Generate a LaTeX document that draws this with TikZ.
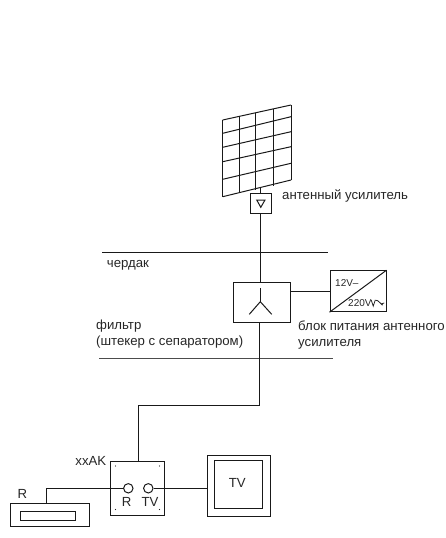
\documentclass[tikz,border=0pt]{standalone}
\usepackage{fontspec}
\setmainfont{Liberation Sans}
\tikzset{
  wire/.style={draw=black!90,line width=1pt},
  thin wire/.style={draw=black!90,line width=1pt},
  lbl/.style={inner sep=0pt,anchor=west,font=\fontsize{13.2}{13.2}\selectfont,text=black!85},
  two lines/.style={lbl,align=left,anchor=west,font=\fontsize{13.2}{16.4}\selectfont},
  small lbl/.style={inner sep=0pt,font=\fontsize{10}{10}\selectfont,text=black!85},
  unit/.style={draw=black!90,line width=1pt,inner sep=0pt,minimum width=0pt}
}
\begin{document}
\begin{tikzpicture}[x=1pt,y=-1pt]
\useasboundingbox (0,0) rectangle (446,538);
% antenna grid
\foreach \x/\yt/\yb in {222.7/120/196.7,239.3/116.5/193,255.7/113/189.5,273/109/185.5,291/105/180}
  \draw[thin wire] (\x,\yt) -- (\x,\yb);
\foreach \yl/\yr in {120/105,133.3/116.7,147.3/131.7,161.7/146.7,179.3/163.3,196.7/180}
  \draw[thin wire] (222.7,\yl) -- (291,\yr);
% amplifier
\node[unit,minimum width=20.3pt,minimum height=20pt] (amp) at (260.85,203.3) {};
\coordinate (antfoot) at (260.85,188);
\draw[thin wire] (256.7,200) -- (265,200) -- (260.8,207.3) -- cycle;
\draw[wire] (antfoot) -- (amp.north);
\node[lbl] (amplabel) at (282,195.7) {антенный усилитель};
% splitter
\node[unit,minimum width=56.7pt,minimum height=40.7pt] (split) at (262.3,302.35) {};
\draw[wire] (amp.south) -- (split.north -| amp.south);
\draw[thin wire] (260.3,288) -- (260.3,301.7);
\draw[thin wire] (249.3,314.3) -- (260.3,301.7) -- (271.7,314.3);
% supply
\node[unit,minimum width=56pt,minimum height=41pt] (psu) at (358,291.2) {};
\draw[thin wire] (psu.south west) -- (psu.north east);
\draw[wire] (split.east |- psu.west) -- (psu.west);
\node[small lbl,anchor=west] (v12) at (335,283.5) {12V–};
\node[small lbl,anchor=west] (v220) at (348,303.2) {220V};
\draw[line width=0.8pt,draw=black!85] (v220.east) ++(-0.5,-3) -- ++(2,6) -- ++(2,-6) .. controls +(2,-2) and +(3,5) .. ++(6.5,3.5) .. controls +(1,-0.5) and +(1.5,-0.5) .. ++(2.5,-0.5);
\node[two lines] (psulabel) at (298,335.3) {блок питания антенного\\усилителя};
% partitions
\coordinate (a1) at (102.3,252.3); \coordinate (a2) at (328,252.3);
\coordinate (b1) at (99.3,358.7); \coordinate (b2) at (332.7,358.7);
\draw[wire] (a1) -- (a2);
\draw[wire,draw=black!70] (b1) -- (b2);
\node[lbl] (attic) at (106.7,265.7) {чердак};
\node[two lines] (filter) at (96,334.3) {фильтр\\(штекер с сепаратором)};
% socket
\node[unit,minimum width=53.3pt,minimum height=54pt] (socket) at (137.35,488) {};
\foreach \px/\py in {115.5/466,159.5/466,115.5/509.5,159.5/509.5}
  \fill[black!85] (\px,\py) circle (0.7);
\node[draw=black!90,line width=1pt,circle,minimum size=9.4pt,inner sep=0pt] (cr) at (128.3,488.3) {};
\node[draw=black!90,line width=1pt,circle,minimum size=9.4pt,inner sep=0pt] (ctv) at (148.3,488.3) {};
\node[lbl,anchor=center] (rl) at (126.7,502) {R};
\node[lbl,anchor=center] (tvl) at (150,502) {TV};
\node[lbl,anchor=east] (xxak) at (106.5,461) {xxAK};
\draw[wire] (split.south -| 259.3,0) -- (259.3,405) -- (138.7,405) -- (138.7,461);
% receiver
\node[unit,minimum width=78.3pt,minimum height=23.4pt] (rec) at (49.85,515) {};
\node[unit,minimum width=55pt,minimum height=9.3pt] (recin) at (48.2,515.7) {};
\node[lbl,anchor=center] (recl) at (22.3,494.3) {R};
\draw[wire] (cr.west) -- (46.7,488.3) -- (46.7,503.3);
% tv
\node[unit,minimum width=63pt,minimum height=61.7pt] (tvo) at (238.5,485.85) {};
\node[unit,minimum width=48pt,minimum height=47.6pt] (tvi) at (238.5,484.5) {};
\node[lbl,anchor=center] (tvt) at (237.3,482.7) {TV};
\draw[wire] (ctv.east) -- (ctv.east -| tvo.west);
\end{tikzpicture}
\end{document}
